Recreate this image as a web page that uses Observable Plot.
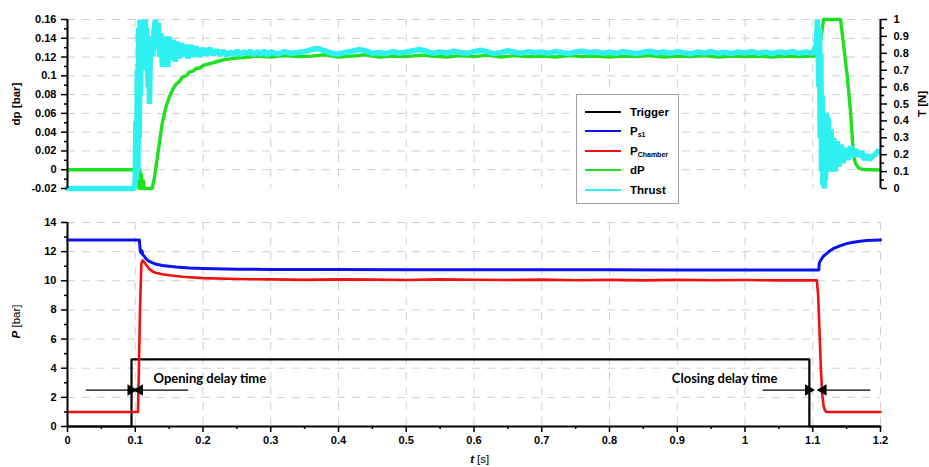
<!DOCTYPE html>
<html>
<head>
<meta charset="utf-8">
<script src="https://cdn.jsdelivr.net/npm/d3@7"></script>
<script src="https://cdn.jsdelivr.net/npm/@observablehq/plot@0.6"></script>
<style>
  html, body { margin: 0; padding: 0; background: #fff; }
  #wrap { position: relative; width: 929px; height: 467px; font-family: "Liberation Sans", Arial, sans-serif; }
  #wrap svg { display: block; }
  #wrap svg [aria-label$="tick label"], #wrap svg [aria-label$="tick label"] text { font-weight: 700 !important; font-family: "Liberation Sans", Arial, sans-serif !important; }
  #legend { position: absolute; left: 576px; top: 94px; width: 103px; height: 110px; background: #fff;
            border: 1px solid #a0a0a0; box-sizing: border-box; }
  .lrow { position: absolute; left: 8px; height: 14px; display: flex; align-items: center; }
  .lline { width: 36px; height: 2.5px; margin-right: 9px; }
  .ltxt { font-family: "Liberation Sans", Arial, sans-serif; font-weight: bold; font-size: 11.5px; color: #000; white-space: nowrap; }
  .ltxt sub { font-size: 7px; vertical-align: -2px; }
</style>
</head>
<body>
<div id="wrap">
  <div id="top"></div>
  <div id="bottom"></div>
  <div id="legend"></div>
</div>
<script>
// ---------------- data ----------------
// Trigger signal [bar]
const triggerT = [0, 0.0945, 0.0945, 1.095, 1.095, 1.2];
const triggerP = [0, 0, 4.6, 4.6, 0, 0];

// P_s1 (blue) [bar]
const pstT = [0, 0.106, 0.1075, 0.109, 0.110, 0.111, 0.113, 0.116, 0.12, 0.125, 0.13, 0.14, 0.15, 0.16, 0.18, 0.2, 0.25, 0.3, 0.4, 0.5, 0.6, 0.7, 0.8, 0.9, 1.0, 1.109,
              1.1095, 1.111, 1.113, 1.116, 1.12, 1.125, 1.13, 1.14, 1.15, 1.16, 1.17, 1.18, 1.2];
const pstP = [12.8, 12.8, 12.0, 11.9, 12.05, 11.8, 11.7, 11.5, 11.35, 11.25, 11.15, 11.05, 11.0, 10.95, 10.88, 10.85, 10.8, 10.78, 10.77, 10.76, 10.76, 10.75, 10.75, 10.74, 10.74, 10.74,
              11.2, 11.35, 11.5, 11.7, 11.85, 12.05, 12.2, 12.4, 12.55, 12.65, 12.72, 12.76, 12.8];

// P_Chamber (red) [bar]
const pchT = [0, 0.104, 0.105, 0.107, 0.109, 0.111, 0.113, 0.116, 0.12, 0.125, 0.13, 0.14, 0.15, 0.17, 0.2, 0.25, 0.3, 0.35, 0.4, 0.45, 0.5, 0.55, 0.6, 0.65, 0.7, 0.75, 0.8, 0.85, 0.9, 0.95, 1.0, 1.05, 1.106,
              1.108, 1.110, 1.112, 1.114, 1.116, 1.118, 1.12, 1.15, 1.2];
const pchP = [1.0, 1.0, 3.0, 8.0, 11.2, 11.4, 11.3, 11.1, 10.85, 10.65, 10.55, 10.45, 10.38, 10.28, 10.18, 10.12, 10.1, 10.06, 10.1, 10.08, 10.05, 10.1, 10.07, 10.05, 10.08, 10.04, 10.06, 10.03, 10.06, 10.04, 10.05, 10.03, 10.03,
              9.0, 6.5, 4.0, 2.2, 1.4, 1.1, 1.0, 1.0, 1.0];

// dP (green) [bar]
const dpT = [0, 0.1, 0.101, 0.102, 0.103, 0.104, 0.105, 0.106, 0.107, 0.108, 0.109, 0.110, 0.112, 0.113, 0.125, 0.128, 0.132, 0.136, 0.14, 0.145, 0.15, 0.155, 0.16, 0.165, 0.17, 0.175, 0.18, 0.185, 0.19, 0.195, 0.2, 0.21, 0.22, 0.23, 0.24, 0.25,
             0.26, 0.28, 0.30, 0.32, 0.34, 0.36, 0.38, 0.40, 0.42, 0.44, 0.46, 0.48, 0.50, 0.52, 0.54, 0.56, 0.58, 0.60, 0.62, 0.64, 0.66, 0.68, 0.70, 0.72, 0.74, 0.76, 0.78, 0.80,
             0.82, 0.84, 0.86, 0.88, 0.90, 0.92, 0.94, 0.96, 0.98, 1.00, 1.02, 1.04, 1.06, 1.08, 1.10, 1.108,
             1.112, 1.116, 1.141, 1.146, 1.151, 1.156, 1.16, 1.163, 1.168, 1.175, 1.185, 1.2];
const dpV = [0, 0, 0.004, -0.012, 0.006, -0.018, 0.003, -0.02, 0.0, -0.016, -0.005, -0.02, -0.012, -0.02, -0.02, -0.01, 0.01, 0.03, 0.05, 0.066, 0.077, 0.085, 0.091, 0.094, 0.099, 0.1, 0.104, 0.105, 0.108, 0.108, 0.111, 0.113, 0.115, 0.117, 0.118, 0.119,
             0.1195, 0.121, 0.12, 0.1215, 0.1205, 0.121, 0.1225, 0.12, 0.121, 0.1225, 0.12, 0.121, 0.1205, 0.122, 0.121, 0.12, 0.1215, 0.1205, 0.122, 0.12, 0.1215, 0.1205, 0.121, 0.12, 0.1215, 0.1205, 0.121, 0.12,
             0.121, 0.1205, 0.1215, 0.12, 0.121, 0.1205, 0.1215, 0.12, 0.121, 0.1205, 0.121, 0.12, 0.121, 0.1205, 0.121, 0.121,
             0.14, 0.16, 0.16, 0.13, 0.099, 0.06, 0.016, 0.007, 0.0016, 0.0002, 0.0, -0.0003];

// Thrust (cyan) [N]
const thrT = [0, 0.099, 0.100, 0.101, 0.102, 0.103, 0.104, 0.105, 0.106, 0.107, 0.108, 0.109, 0.110, 0.111, 0.112, 0.113, 0.114, 0.115, 0.116, 0.117, 0.118, 0.119, 0.120, 0.121, 0.122, 0.124, 0.126, 0.128, 0.130,
              0.132, 0.134, 0.136, 0.138, 0.140, 0.142, 0.144, 0.146, 0.148, 0.150, 0.153, 0.156, 0.159, 0.162, 0.165, 0.168, 0.171, 0.174, 0.178, 0.182, 0.186, 0.190, 0.195, 0.200, 0.205, 0.210, 0.215, 0.220,
              0.225, 0.23, 0.235, 0.24, 0.245, 0.25, 0.255, 0.26, 0.265, 0.27, 0.275, 0.28, 0.285, 0.29, 0.295, 0.30, 0.31, 0.32, 0.33, 0.34, 0.35, 0.36, 0.37, 0.38, 0.39, 0.40, 0.41, 0.42, 0.43, 0.44, 0.45, 0.46, 0.47, 0.48, 0.49, 0.50,
              0.51, 0.52, 0.53, 0.54, 0.55, 0.56, 0.57, 0.58, 0.59, 0.60, 0.61, 0.62, 0.63, 0.64, 0.65, 0.66, 0.67, 0.68, 0.69, 0.70, 0.71, 0.72, 0.73, 0.74, 0.75, 0.76, 0.77, 0.78, 0.79, 0.80,
              0.81, 0.82, 0.83, 0.84, 0.85, 0.86, 0.87, 0.88, 0.89, 0.90, 0.91, 0.92, 0.93, 0.94, 0.95, 0.96, 0.97, 0.98, 0.99, 1.00, 1.01, 1.02, 1.03, 1.04, 1.05, 1.06, 1.07, 1.08, 1.09, 1.10, 1.105,
              1.107, 1.109, 1.110, 1.111, 1.112, 1.113, 1.114, 1.115, 1.116, 1.117, 1.118, 1.119, 1.120, 1.121, 1.123, 1.125, 1.127, 1.129, 1.131, 1.133, 1.136, 1.139, 1.142, 1.145, 1.148, 1.152,
              1.156, 1.160, 1.164, 1.168, 1.172, 1.176, 1.180, 1.184, 1.188, 1.192, 1.196, 1.2];
const thrN = [0, 0, 0.05, 0.4, 0.05, 0.7, 0.1, 0.95, 0.3, 1.0, 0.55, 1.0, 0.7, 1.0, 0.75, 0.98, 0.8, 1.0, 0.7, 0.95, 0.8, 0.6, 0.9, 0.5, 0.75, 0.85, 0.78, 0.95, 1.0,
              0.82, 0.98, 0.78, 0.92, 0.72, 0.9, 0.74, 0.88, 0.72, 0.9, 0.76, 0.88, 0.75, 0.87, 0.77, 0.86, 0.78, 0.85, 0.77, 0.85, 0.78, 0.84, 0.78, 0.83, 0.79, 0.83, 0.79, 0.82,
              0.79, 0.815, 0.785, 0.81, 0.79, 0.815, 0.79, 0.81, 0.795, 0.815, 0.79, 0.812, 0.792, 0.815, 0.79, 0.808, 0.795, 0.81, 0.8, 0.805, 0.81, 0.822, 0.828, 0.815, 0.8, 0.795, 0.805, 0.812, 0.822, 0.815, 0.8, 0.805, 0.798, 0.81, 0.802,
              0.808, 0.815, 0.822, 0.812, 0.8, 0.808, 0.802, 0.812, 0.805, 0.8, 0.81, 0.818, 0.808, 0.798, 0.805, 0.815, 0.806, 0.8, 0.81, 0.803, 0.808, 0.8, 0.81, 0.805, 0.798, 0.808, 0.812, 0.803, 0.81, 0.8,
              0.807, 0.8, 0.81, 0.805, 0.798, 0.806, 0.812, 0.802, 0.808, 0.8, 0.81, 0.803, 0.797, 0.808, 0.802, 0.81, 0.8, 0.806, 0.798, 0.808, 0.802, 0.81, 0.8, 0.807, 0.798, 0.808, 0.802, 0.81, 0.8, 0.808, 0.8,
              0.85, 1.0, 0.6, 0.95, 0.3, 0.8, 0.1, 0.55, 0.02, 0.4, 0.0, 0.35, 0.05, 0.45, 0.12, 0.42, 0.1, 0.35, 0.12, 0.3, 0.1, 0.28, 0.13, 0.26, 0.15, 0.24,
              0.17, 0.25, 0.19, 0.23, 0.19, 0.22, 0.17, 0.2, 0.17, 0.19, 0.2, 0.22];

// axis ticks
const xMajor = [0, 0.1, 0.2, 0.3, 0.4, 0.5, 0.6, 0.7, 0.8, 0.9, 1.0, 1.1, 1.2];
const xMinor = [0.05, 0.15, 0.25, 0.35, 0.45, 0.55, 0.65, 0.75, 0.85, 0.95, 1.05, 1.15];
const dpMajor = [-0.02, 0, 0.02, 0.04, 0.06, 0.08, 0.1, 0.12, 0.14, 0.16];
const dpMinor = [-0.01, 0.01, 0.03, 0.05, 0.07, 0.09, 0.11, 0.13, 0.15];
const tMajor = [0, 0.1, 0.2, 0.3, 0.4, 0.5, 0.6, 0.7, 0.8, 0.9, 1];
const tMinor = [0.05, 0.15, 0.25, 0.35, 0.45, 0.55, 0.65, 0.75, 0.85, 0.95];
const pMajor = [0, 2, 4, 6, 8, 10, 12, 14];
const pMinor = [1, 3, 5, 7, 9, 11, 13];

// legend
const seriesNames = ["Trigger", "P|s1", "P|Chamber", "dP", "Thrust"];
const seriesColors = ["#000000", "#0b12ee", "#f01010", "#1fe01f", "#2ff0f0"];

// annotations (data units: t [s], P [bar])
const annoText = ["Opening delay time", "Closing delay time"];
const annoX = [0.127, 0.892];
const annoY = [3.3, 3.3];
const arrowFrom = [0.027, 0.178, 1.026, 1.185];
const arrowTo = [0.0935, 0.1065, 1.0935, 1.1155];
const arrowY = [2.5, 2.5, 2.5, 2.5];

// ---------------- build ----------------
const zip = (a, b, k1, k2) => a.map((v, i) => ({[k1]: v, [k2]: b[i]}));
const trigger = zip(triggerT, triggerP, "t", "v");
const pst = zip(pstT, pstP, "t", "v");
const pch = zip(pchT, pchP, "t", "v");
const dP = zip(dpT, dpV, "t", "v");
const thrust = zip(thrT, thrN, "t", "v");
const toDp = T => -0.02 + 0.18 * T;   // right axis (T [N]) <-> left axis (dp [bar])
const fmt2 = d => String(+d.toFixed(2));
const fmt1 = d => String(+d.toFixed(1));

const FONT = "Liberation Sans, Arial, sans-serif";
const tickFont = {fontFamily: FONT, fontSize: 11, fontWeight: "bold"};
const gridStyle = {stroke: "#cfcfcf", strokeOpacity: 1, strokeWidth: 1, strokeDasharray: "8,7"};
const commonStyle = {fontFamily: FONT, fontSize: "11px", color: "#000", background: "transparent", overflow: "visible"};

const topPlot = Plot.plot({
  width: 929, height: 200,
  marginLeft: 67, marginRight: 49, marginTop: 19, marginBottom: 12,
  style: commonStyle,
  x: {domain: [0, 1.2], axis: null},
  y: {domain: [-0.02, 0.16], axis: null},
  marks: [
    Plot.gridX(xMajor.slice(1, -1), gridStyle),
    Plot.gridY(dpMajor.slice(1), gridStyle),
    Plot.line(dP, {x: "t", y: "v", stroke: seriesColors[3], strokeWidth: 3.4}),
    Plot.line(thrust, {x: "t", y: d => toDp(d.v), stroke: seriesColors[4], strokeWidth: 5.5, strokeLinejoin: "bevel"}),
    Plot.ruleX([0], {stroke: "#000", strokeWidth: 2}),
    Plot.ruleX([1.2], {stroke: "#000", strokeWidth: 2}),
    Plot.axisY(dpMajor, {anchor: "left", tickSize: 6, tickPadding: 5, strokeWidth: 1.5, tickFormat: fmt2, label: null, ...tickFont}),
    Plot.axisY(dpMinor, {anchor: "left", tickSize: 3, strokeWidth: 1.5, tickFormat: () => "", label: null}),
    Plot.axisY(tMajor.map(toDp), {anchor: "right", tickSize: 6, tickPadding: 7, strokeWidth: 1.5, tickFormat: d => fmt1((d + 0.02) / 0.18), label: null, ...tickFont}),
    Plot.axisY(tMinor.map(toDp), {anchor: "right", tickSize: 3, strokeWidth: 1.5, tickFormat: () => "", label: null}),
    Plot.text(["dp [bar]"], {frameAnchor: "left", rotate: -90, dx: -51, fontFamily: FONT, fontSize: 11.5, fontWeight: "bold", textAnchor: "middle"}),
    Plot.text(["T [N]"], {frameAnchor: "right", rotate: -90, dx: 42, fontFamily: FONT, fontSize: 11.5, fontWeight: "bold", textAnchor: "middle"})
  ]
});

const arrows = arrowFrom.map((a, i) => ({x1: a, x2: arrowTo[i], y: arrowY[i], dir: Math.sign(arrowTo[i] - a)}));
const annos = annoText.map((s, i) => ({s, x: annoX[i], y: annoY[i]}));

const bottomPlot = Plot.plot({
  width: 929, height: 267,
  marginLeft: 67, marginRight: 49, marginTop: 22, marginBottom: 41,
  style: commonStyle,
  x: {domain: [0, 1.2], axis: null},
  y: {domain: [0, 14], axis: null},
  marks: [
    Plot.gridX(xMajor.slice(1, -1), gridStyle),
    Plot.gridX([1.2], gridStyle),
    Plot.gridY(pMajor.slice(1), gridStyle),
    Plot.line(trigger, {x: "t", y: "v", stroke: seriesColors[0], strokeWidth: 2.2}),
    Plot.line(pst, {x: "t", y: "v", stroke: seriesColors[1], strokeWidth: 3}),
    Plot.line(pch, {x: "t", y: "v", stroke: seriesColors[2], strokeWidth: 2.6}),
    Plot.link(arrows, {x1: "x1", x2: "x2", y1: "y", y2: "y", stroke: "#000", strokeWidth: 1.3}),
    Plot.dot(arrows, {x: "x2", y: "y", symbol: "triangle2", fill: "#000", stroke: "none", r: 5.5,
                      rotate: d => d.dir > 0 ? 90 : -90, dx: 0}),
    Plot.text(annos, {x: "x", y: "y", text: "s", textAnchor: "start", fontFamily: "Lato, 'Open Sans', sans-serif", fontWeight: 700, fontSize: 13}),
    Plot.ruleX([0], {stroke: "#000", strokeWidth: 2}),
    Plot.ruleY([0], {stroke: "#000", strokeWidth: 2}),
    Plot.axisY(pMajor, {anchor: "left", tickSize: 6, tickPadding: 5, strokeWidth: 1.5, tickFormat: d => String(d), label: null, ...tickFont}),
    Plot.axisY(pMinor, {anchor: "left", tickSize: 3, strokeWidth: 1.5, tickFormat: () => "", label: null}),
    Plot.axisX(xMajor, {anchor: "bottom", tickSize: 6, tickPadding: 4, strokeWidth: 1.5, tickFormat: fmt1, label: null, ...tickFont}),
    Plot.axisX(xMinor, {anchor: "bottom", tickSize: 3, strokeWidth: 1.5, tickFormat: () => "", label: null}),
    Plot.text(["P"], {frameAnchor: "left", rotate: -90, dx: -51, dy: 14, fontFamily: FONT, fontSize: 11.5, fontStyle: "italic", fontWeight: "bold", textAnchor: "start"}),
    Plot.text(["[bar]"], {frameAnchor: "left", rotate: -90, dx: -51, dy: 3, fontFamily: FONT, fontSize: 11.5, fontWeight: "normal", textAnchor: "start"}),
    Plot.text(["t"], {frameAnchor: "bottom", dy: 36, dx: 0, fontFamily: FONT, fontSize: 11.5, fontStyle: "italic", fontWeight: "bold", textAnchor: "end"}),
    Plot.text(["[s]"], {frameAnchor: "bottom", dy: 36, dx: 3, fontFamily: FONT, fontSize: 11.5, fontWeight: "normal", textAnchor: "start"})
  ]
});

document.getElementById("top").appendChild(topPlot);
document.getElementById("bottom").appendChild(bottomPlot);

// legend
const legend = document.getElementById("legend");
const rowTops = [10, 29, 49, 68, 88];
seriesNames.forEach((name, i) => {
  const row = document.createElement("div");
  row.className = "lrow";
  row.style.top = rowTops[i] + "px";
  const ln = document.createElement("div");
  ln.className = "lline";
  ln.style.background = seriesColors[i];
  const tx = document.createElement("span");
  tx.className = "ltxt";
  const [main, sub] = name.split("|");
  tx.textContent = main;
  if (sub) { const s = document.createElement("sub"); s.textContent = sub; tx.appendChild(s); }
  row.appendChild(ln); row.appendChild(tx);
  legend.appendChild(row);
});
</script>
</body>
</html>
